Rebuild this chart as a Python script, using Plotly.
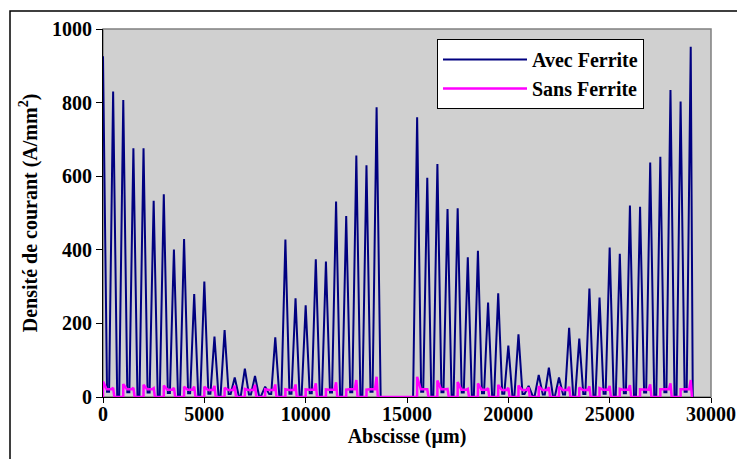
import plotly.graph_objects as go

# ---------------- data ----------------
spike_step = 500            # µm between successive current peaks
left_start = 0              # first peak of the left conductor block (µm)
right_start = 15500         # first peak of the right conductor block (µm)

# "Avec Ferrite" peak values (A/mm²), one per peak, left block then right block
avec_left_peaks = [926, 830, 807, 676, 676, 533, 551, 401, 429, 280, 314, 164, 182, 53,
                   77, 57, 28, 162, 428, 268, 249, 374, 368, 531, 492, 656, 630, 787]
avec_right_peaks = [760, 596, 633, 511, 513, 380, 397, 257, 282, 140, 170, 30, 60, 80,
                    53, 188, 159, 295, 270, 406, 389, 520, 517, 637, 653, 834, 803, 952]
# valley levels between peaks: inside a conductor / between two conductors
avec_left_valley_in = [14, 13, 12, 11, 10, 9, 8, 7, 8, 9, 10, 12, 13, 14]
avec_left_valley_gap = [5, 5, 4, 4, 4, 3, 3, 3, 3, 4, 4, 5, 5]
avec_right_valley_in = [14, 13, 12, 10, 9, 8, 7, 7, 8, 9, 10, 12, 13, 14]
avec_right_valley_gap = [5, 5, 4, 4, 3, 3, 3, 3, 4, 4, 4, 5, 5]

# "Sans Ferrite" profile for each conductor: value at its left edge, flat middle, right edge
sans_left_start = [42, 35, 33, 31, 28, 28, 25, 22, 21, 21, 21, 21, 20, 20]
sans_left_mid = [21, 21, 21, 20, 20, 19, 19, 19, 19, 19, 20, 20, 21, 21]
sans_left_end = [25, 25, 24, 25, 28, 30, 31, 33, 34, 34, 37, 40, 46, 55]
sans_right_start = [55, 45, 41, 37, 33, 31, 29, 28, 26, 24, 22, 21, 21, 21]
sans_right_mid = [21, 21, 20, 20, 19, 19, 19, 19, 19, 20, 20, 20, 21, 21]
sans_right_end = [21, 22, 22, 24, 25, 26, 27, 28, 29, 30, 32, 34, 37, 46]

x_ticks = [0, 5000, 10000, 15000, 20000, 25000, 30000]
y_ticks = [0, 200, 400, 600, 800, 1000]


# ---------------- build the sampled curves ----------------
def avec_block(x0, peaks, v_in, v_gap):
    xs, ys = [], []
    for k, p in enumerate(peaks):
        xk = x0 + k * spike_step
        xs.append(xk)
        ys.append(p)
        if k < len(peaks) - 1:
            v = v_in[k // 2] if k % 2 == 0 else v_gap[k // 2]
            xs += [xk + 200, xk + 300]
            ys += [v, v]
    return xs, ys


xa1, ya1 = avec_block(left_start, avec_left_peaks, avec_left_valley_in, avec_left_valley_gap)
xa2, ya2 = avec_block(right_start, avec_right_peaks, avec_right_valley_in, avec_right_valley_gap)
x_avec = xa1 + [xa1[-1] + 200, xa2[0] - 200] + xa2 + [xa2[-1] + 100]
y_avec = ya1 + [0, 0] + ya2 + [0]


def sans_block(x0, starts, mids, ends):
    xs, ys = [], []
    for i in range(len(starts)):
        s = x0 + i * 2 * spike_step
        xs += [s, s, s + 180, s + 420, s + 500, s + 560]
        ys += [0, starts[i], mids[i], mids[i], ends[i], 0]
    return xs, ys


xs1, ys1 = sans_block(left_start, sans_left_start, sans_left_mid, sans_left_end)
xs2, ys2 = sans_block(right_start, sans_right_start, sans_right_mid, sans_right_end)
x_sans = xs1 + xs2
y_sans = ys1 + ys2

# ---------------- figure ----------------
FONT = "Liberation Serif"
fig = go.Figure()
fig.add_trace(go.Scatter(x=x_avec, y=y_avec, mode="lines", name="Avec Ferrite",
                         line=dict(color="#000080", width=2)))
fig.add_trace(go.Scatter(x=x_sans, y=y_sans, mode="lines", name="Sans Ferrite",
                         line=dict(color="#ff00ff", width=2.5)))

L, R, T, B = 103, 26, 29, 62
W, H = 737, 459
pw, ph = W - L - R, H - T - B

fig.update_layout(
    width=W, height=H,
    margin=dict(l=L, r=R, t=T, b=B, pad=0, autoexpand=False),
    paper_bgcolor="white",
    plot_bgcolor="#d0d0d0",
    font=dict(family=FONT, size=20, color="black", weight="bold"),
    showlegend=True,
    legend=dict(x=(437 - L) / pw, y=(H - B - 39) / ph, xanchor="left", yanchor="top",
                bgcolor="white", bordercolor="black", borderwidth=1,
                font=dict(family=FONT, size=20, color="black", weight="bold"),
                itemwidth=84, tracegroupgap=0),
    xaxis=dict(range=[0, 30000], tickvals=x_ticks, ticktext=[str(v) for v in x_ticks],
               automargin=False,
               showgrid=False, zeroline=False, showline=True, linecolor="black", linewidth=1,
               ticks="outside", ticklen=5, tickcolor="black", ticklabelstandoff=-6,
               tickfont=dict(family=FONT, size=20, weight="bold"),
               title=dict(text="Abscisse (µm)", standoff=0,
                          font=dict(family=FONT, size=20, weight="bold"))),
    yaxis=dict(range=[0, 1000], tickvals=y_ticks, ticktext=[str(v) for v in y_ticks],
               automargin=False,
               showgrid=False, zeroline=False, showline=True, linecolor="black", linewidth=1,
               ticks="outside", ticklen=6, tickcolor="black",
               tickfont=dict(family=FONT, size=20, weight="bold"),
               title=dict(text="Densité de courant (A/mm<sup>2</sup>)", standoff=9,
                          font=dict(family=FONT, size=20, weight="bold"))),
    shapes=[
        # gray frame of the plotting area
        dict(type="rect", xref="paper", yref="paper", x0=0, y0=0, x1=1, y1=1,
             line=dict(color="#808080", width=1.5), layer="below"),
        # outer frame of the whole chart
        dict(type="rect", xref="paper", yref="paper",
             x0=(10 - L) / pw, x1=(W + 5 - L) / pw,
             y0=(H - B - (H + 5)) / ph, y1=(H - B - 11) / ph,
             line=dict(color="black", width=1.5)),
    ],
)

fig.write_html("out.html", config={"displayModeBar": False},
               post_script="document.body.style.margin='0';document.body.style.padding='0';")
